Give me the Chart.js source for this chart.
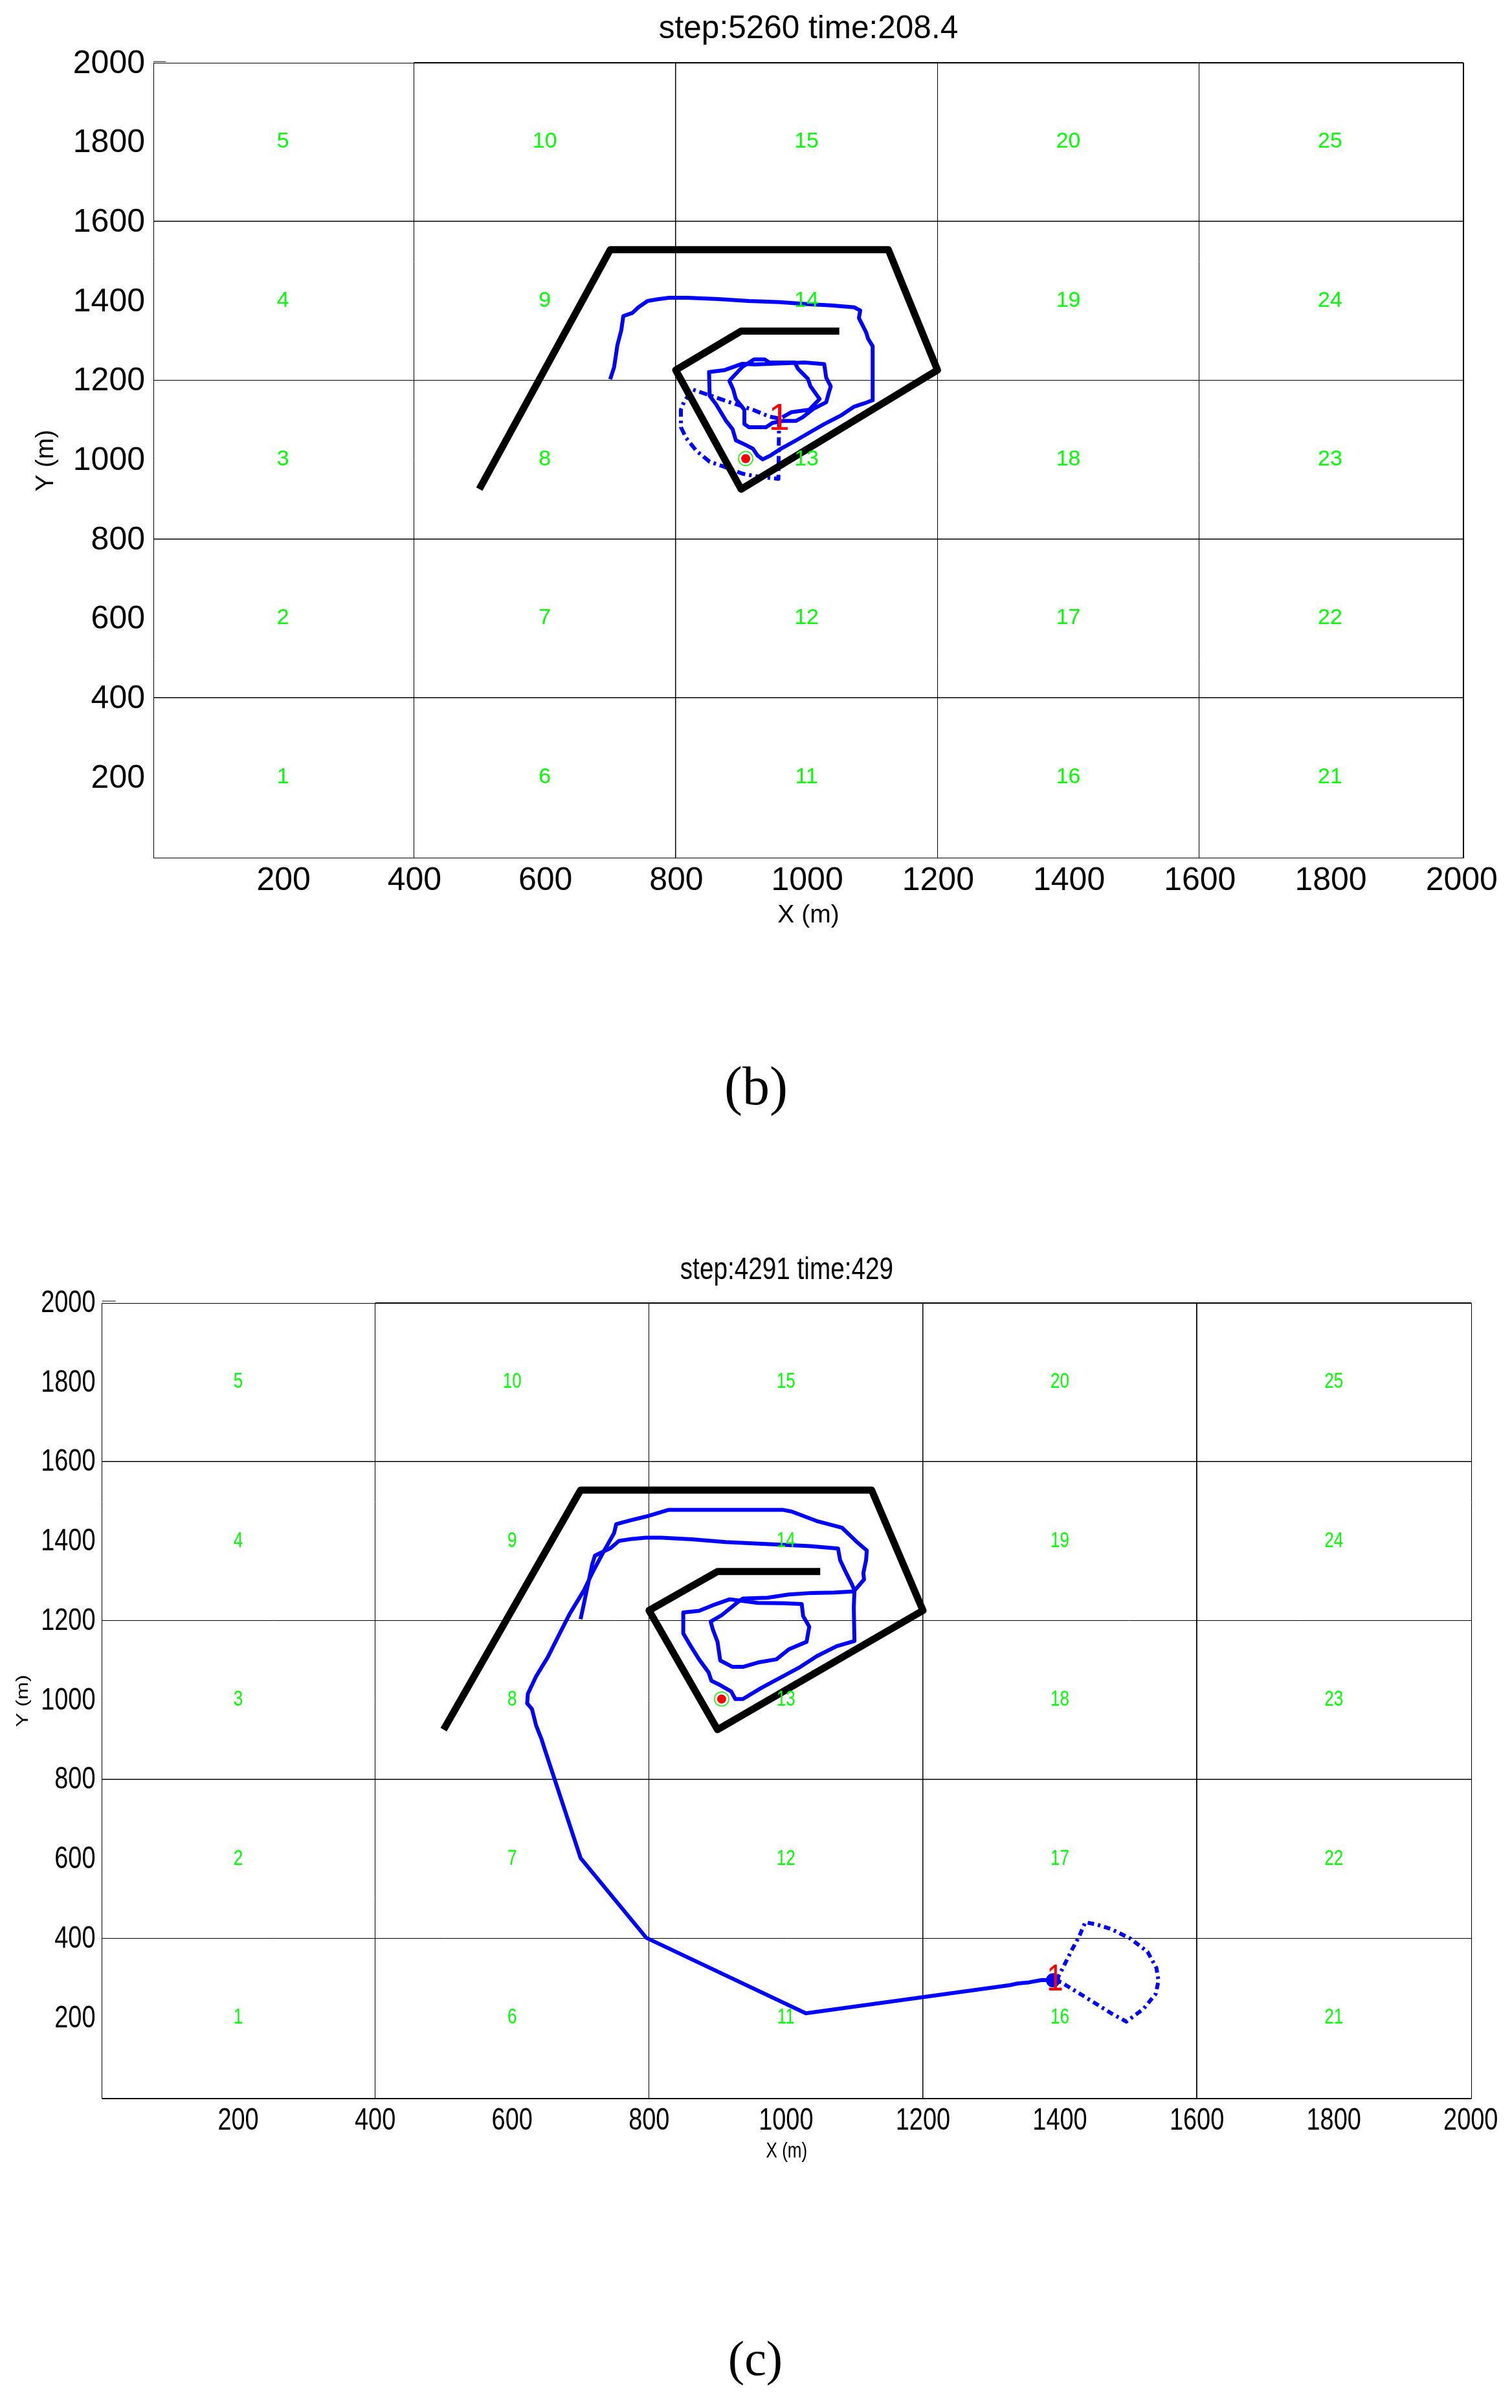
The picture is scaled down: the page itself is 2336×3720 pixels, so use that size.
<!DOCTYPE html>
<html>
<head>
<meta charset="utf-8">
<title>Trajectories</title>
<script src="https://cdn.jsdelivr.net/npm/chart.js@4/dist/chart.umd.js"></script>
<style>
html,body{margin:0;padding:0;background:#fff;width:2336px;height:3720px;overflow:hidden}
canvas{position:absolute;left:0}
.cap{position:absolute;font-family:"Liberation Serif",serif;color:#000;transform:translate(-50%,-50%);line-height:1;white-space:nowrap}
</style>
</head>
<body>
<canvas id="chartB" width="2336" height="1440" style="top:0;width:2336px;height:1440px"></canvas>
<canvas id="chartC" width="2336" height="1444" style="top:1900px;width:2336px;height:1444px"></canvas>
<div class="cap" style="left:1168px;top:1678px;font-size:84px">(b)</div>
<div class="cap" style="left:1167px;top:3643px;font-size:76px">(c)</div>
<script>
const tickValues = [200,400,600,800,1000,1200,1400,1600,1800,2000];
const cellX = [200,200,200,200,200,600,600,600,600,600,1000,1000,1000,1000,1000,1400,1400,1400,1400,1400,1800,1800,1800,1800,1800];
const cellY = [200,600,1000,1400,1800,200,600,1000,1400,1800,200,600,1000,1400,1800,200,600,1000,1400,1800,200,600,1000,1400,1800];
const cellText = ["1","2","3","4","5","6","7","8","9","10","11","12","13","14","15","16","17","18","19","20","21","22","23","24","25"];

const wallX = [500,700,1125,1200,900,800,900,1050];
const wallY = [925,1528,1528,1225,925,1225,1323,1323];

const solidBX = [700,706,711,717,720,734,743,757,771,790,818,865,912,959,1004,1037,1073,1082,1080,1091,1094,1101,1101,1088,1073,1053,1027,1007,984,961,945,933,925,918,905,892,887,877,869,862,852,851,875,902,921,945,997,1027,1030,1037,1034,1030,1010,994,984,964,948,938,912,905,905,892,888,882,902,920,936,943,982,987,1002,1006,1020,1004,977,963];
const solidBY = [1202,1233,1288,1326,1361,1369,1383,1399,1403,1407,1407,1404,1399,1396,1391,1388,1383,1375,1356,1320,1304,1285,1149,1141,1133,1111,1089,1070,1048,1027,1010,1000,1010,1027,1038,1048,1076,1097,1119,1138,1160,1220,1225,1241,1239,1241,1244,1240,1206,1184,1168,1144,1127,1106,1097,1097,1092,1081,1081,1089,1125,1152,1176,1198,1233,1252,1252,1244,1244,1228,1203,1184,1152,1125,1119,1106];
const dashBX = [958,957,945,928,902,875,852,832,816,808,808,813,826,849,888,918,943,958];
const dashBY = [1103,951,953,956,964,981,994,1021,1054,1081,1125,1146,1176,1163,1141,1125,1108,1103];
const targetBX = [907], targetBY = [1002];
const robotBX = [958], robotBY = [1101];
const cornerTickBX = [2,21], cornerTickBY = [2002,2002];

const solidCX = [700,705,709,713,717,721,734,744,756,775,795,818,863,912,961,1035,1076,1079,1088,1096,1100,1099,1100,1074,1045,1021,992,963,937,926,920,904,891,887,873,861,850,850,873,893,918,937,959,996,1023,1025,1034,1030,1004,986,959,937,922,904,900,893,890,906,932,937,973,1004,1037,1070,1099,1114,1113,1117,1118,1105,1082,1045,1008,996,828,795,773,752,749,734,717,705,684,668,652,635,623,622,629,635,643,647,700,796,1029,1327,1338,1355,1374,1390];
const solidCY = [1203,1243,1276,1308,1341,1363,1374,1382,1400,1405,1408,1408,1404,1397,1393,1387,1381,1352,1319,1292,1276,1232,1148,1135,1110,1083,1056,1029,1002,1002,1021,1037,1048,1069,1102,1135,1167,1220,1224,1238,1253,1249,1244,1243,1241,1211,1184,1146,1127,1102,1094,1083,1083,1099,1146,1178,1197,1213,1249,1255,1257,1265,1269,1270,1273,1303,1319,1352,1376,1395,1433,1450,1474,1478,1478,1461,1452,1442,1420,1374,1319,1276,1216,1162,1107,1059,1015,991,977,936,901,879,602,401,211,282,286,289,295,294];
const dashCX = [1395,1406,1417,1428,1437,1453,1475,1503,1528,1541,1544,1540,1522,1497,1475,1437,1402,1395];
const dashCY = [294,331,369,404,440,435,423,399,366,325,293,260,222,190,211,252,289,294];
const targetCX = [906], targetCY = [1002];
const robotCX = [1393], robotCY = [294];
const blobCX = [1390], blobCY = [294];
const cornerTickCX = [1,21], cornerTickCY = [2003.6,2003.6];

const zip = (xs, ys) => xs.map((x, i) => ({ x, y: ys[i] }));

const textMarks = {
  id: 'textMarks',
  afterDatasetsDraw(chart, args, opts) {
    const { ctx, scales: { x, y } } = chart;
    ctx.save();
    ctx.textAlign = 'center';
    ctx.textBaseline = 'middle';
    ctx.fillStyle = '#00ff00';
    ctx.font = opts.cellFont;
    cellText.forEach((t, i) => ctx.fillText(t, x.getPixelForValue(cellX[i]), y.getPixelForValue(cellY[i])));
    ctx.fillStyle = '#ff0000';
    ctx.font = opts.robotFont;
    ctx.fillText('1', x.getPixelForValue(opts.robot.x), y.getPixelForValue(opts.robot.y));
    ctx.restore();
  }
};
const snap = (v, w) => (Math.round(w) % 2 ? Math.floor(v) + 0.5 : Math.round(v));
const frame = {
  id: 'frame',
  afterDraw(chart, args, opts) {
    const { ctx, chartArea: a, scales: { x } } = chart;
    const h = (w, x1, x2, y) => {
      ctx.beginPath(); ctx.lineWidth = w; ctx.strokeStyle = '#000';
      ctx.moveTo(x1, snap(y, w)); ctx.lineTo(x2, snap(y, w)); ctx.stroke();
    };
    const v = (w, xp, y1, y2) => {
      ctx.beginPath(); ctx.lineWidth = w; ctx.strokeStyle = '#000';
      ctx.moveTo(snap(xp, w), y1); ctx.lineTo(snap(xp, w), y2); ctx.stroke();
    };
    ctx.save();
    h(opts.top, a.left, a.right, a.top);
    h(opts.topThick, x.getPixelForValue(400), a.right, a.top - 0.5);
    v(opts.right, a.right, a.top, a.bottom);
    h(opts.bottom, a.left, a.right, a.bottom);
    v(opts.left, a.left, a.top, a.bottom);
    ctx.restore();
  }
};

/* chart (c) in the reference is squeezed horizontally: every glyph is compressed in device x about its anchor */
function condense(canvas, k) {
  const ctx = canvas.getContext('2d');
  const orig = ctx.fillText;
  ctx.fillText = function (t, x, y, mw) {
    const m = this.getTransform();
    const ax = m.a * x + m.c * y + m.e;
    this.save();
    this.setTransform(new DOMMatrix().translate(ax, 0).scale(k, 1).translate(-ax, 0).multiply(m));
    if (mw === undefined) orig.call(this, t, x, y); else orig.call(this, t, x, y, mw / k);
    this.restore();
  };
}

function build(id, c) {
  const canvas = document.getElementById(id);
  if (c.squeeze) condense(canvas, c.squeeze);
  const ds = [
    { data: zip(c.cornerX, c.cornerY), showLine: true, borderColor: '#000', borderWidth: 1, pointRadius: 0, clip: false },
    { data: zip(wallX, wallY), showLine: true, borderColor: '#000', borderWidth: 11, pointRadius: 0, borderJoinStyle: 'round', borderCapStyle: 'butt' },
    { data: zip(c.solidX, c.solidY), showLine: true, borderColor: '#0000ff', borderWidth: 6, pointRadius: 0, borderJoinStyle: 'round', borderCapStyle: 'butt' },
    { data: zip(c.dashX, c.dashY), showLine: true, borderColor: '#0000ff', borderWidth: 6, pointRadius: 0, borderDash: c.dash, borderJoinStyle: 'round', borderCapStyle: 'butt' },
    { data: zip(c.targetX, c.targetY), showLine: false, pointRadius: 11, pointBorderColor: '#00ff00', pointBorderWidth: 1.5, pointBackgroundColor: 'rgba(0,0,0,0)' },
    { data: zip(c.targetX, c.targetY), showLine: false, pointRadius: 7, pointBorderWidth: 0, pointBackgroundColor: '#ff0000' }
  ];
  if (c.blobX) ds.push({ data: zip(c.blobX, c.blobY), showLine: false, pointRadius: 11, pointBorderWidth: 0, pointBackgroundColor: '#0000ff' });
  return new Chart(canvas, {
    type: 'scatter',
    data: { datasets: ds },
    plugins: [textMarks, frame],
    options: {
      responsive: false,
      animation: false,
      devicePixelRatio: 1,
      layout: { padding: { left: 0, right: 2336 - c.right, top: 0, bottom: 0 } },
      plugins: {
        legend: { display: false },
        tooltip: { enabled: false },
        title: { display: true, fullSize: false, text: c.title, color: '#000', font: { family: c.family, size: c.titleSize, weight: 'normal', lineHeight: 1.2 }, padding: c.titlePad },
        textMarks: { cellFont: c.cellFont, robotFont: c.robotFont, robot: { x: c.robotX[0], y: c.robotY[0] } },
        frame: c.frame
      },
      scales: {
        x: {
          type: 'linear', min: c.xMin, max: c.xMax,
          afterBuildTicks: a => { a.ticks = tickValues.map(v => ({ value: v })); },
          afterFit: s => { s.height = c.xAxisH; },
          border: { display: false },
          grid: {
            drawTicks: false,
            color: t => (t.tick && t.tick.value % 400 === 0 && t.tick.value < 2000) ? '#000' : 'rgba(0,0,0,0)',
            lineWidth: t => t.tick ? (c.xGrid[t.tick.value] || 1) : 1
          },
          ticks: { autoSkip: false, maxRotation: 0, minRotation: 0, padding: c.xPad, labelOffset: c.xLabelOffset, color: '#000', font: { family: c.family, size: c.tickSize }, callback: v => String(v) },
          title: { display: true, text: 'X (m)', color: '#000', font: { family: c.family, size: c.axisSize, lineHeight: 1.2 }, padding: { top: 0, bottom: c.xTitlePad } }
        },
        y: {
          type: 'linear', min: c.yMin, max: c.yMax,
          afterBuildTicks: a => { a.ticks = tickValues.map(v => ({ value: v })); },
          afterFit: s => { s.width = c.left; },
          border: { display: false },
          grid: {
            drawTicks: false,
            color: t => (t.tick && t.tick.value % 400 === 0 && t.tick.value < 2000) ? '#000' : 'rgba(0,0,0,0)',
            lineWidth: t => t.tick ? (c.yGrid[t.tick.value] || 1) : 1
          },
          ticks: { autoSkip: false, padding: c.yPad, labelOffset: c.yLabelOffset, color: '#000', font: { family: c.family, size: c.tickSize }, callback: v => String(v) },
          title: { display: true, text: 'Y (m)', color: '#000', font: { family: c.family, size: c.axisSize, lineHeight: 1.2 }, padding: { top: c.yTitlePad, bottom: 0 } }
        }
      }
    }
  });
}

const SANS = '"Liberation Sans", Arial, sans-serif';

build('chartB', {
  title: 'step:5260 time:208.4', family: SANS, titleSize: 49.5, titlePad: { top: 16, bottom: 21.9 },
  tickSize: 50, axisSize: 39, cellFont: '34px ' + SANS, robotFont: '58px ' + SANS,
  left: 237, right: 2261, xAxisH: 114.3, xPad: 6, yPad: 13, xTitlePad: 2, yTitlePad: 48,
  xLabelOffset: 1, yLabelOffset: 2.5,
  xMin: 2, xMax: 2003.7, yMin: -4.4, yMax: 1998.5,
  xGrid: { 800: 1.5 }, yGrid: { 1600: 1.5, 400: 1.5, 800: 1.5 },
  frame: { top: 1, topThick: 2, right: 2, bottom: 1, left: 1 },
  dash: [13, 6, 4, 6],
  solidX: solidBX, solidY: solidBY, dashX: dashBX, dashY: dashBY,
  targetX: targetBX, targetY: targetBY, robotX: robotBX, robotY: robotBY,
  cornerX: cornerTickBX, cornerY: cornerTickBY
});
build('chartC', {
  squeeze: 0.79,
  title: 'step:4291 time:429', family: SANS, titleSize: 49, titlePad: { top: 33, bottom: 21.5 },
  tickSize: 48, axisSize: 33, cellFont: '33px ' + SANS, robotFont: '58px ' + SANS,
  left: 157.5, right: 2273.3, xAxisH: 102, xPad: 6, yPad: 10, xTitlePad: 0, yTitlePad: 16,
  xLabelOffset: 0, yLabelOffset: 1.5,
  xMin: 1, xMax: 2001, yMin: -3.6, yMax: 1998.2,
  xGrid: { 1200: 1.5, 1600: 1.8 }, yGrid: { 1600: 1.5, 800: 1.5 },
  frame: { top: 1, topThick: 2, right: 1, bottom: 2, left: 1 },
  dash: [10, 6, 4, 6],
  solidX: solidCX, solidY: solidCY, dashX: dashCX, dashY: dashCY,
  targetX: targetCX, targetY: targetCY, robotX: robotCX, robotY: robotCY,
  blobX: blobCX, blobY: blobCY,
  cornerX: cornerTickCX, cornerY: cornerTickCY
});
</script>
</body>
</html>
